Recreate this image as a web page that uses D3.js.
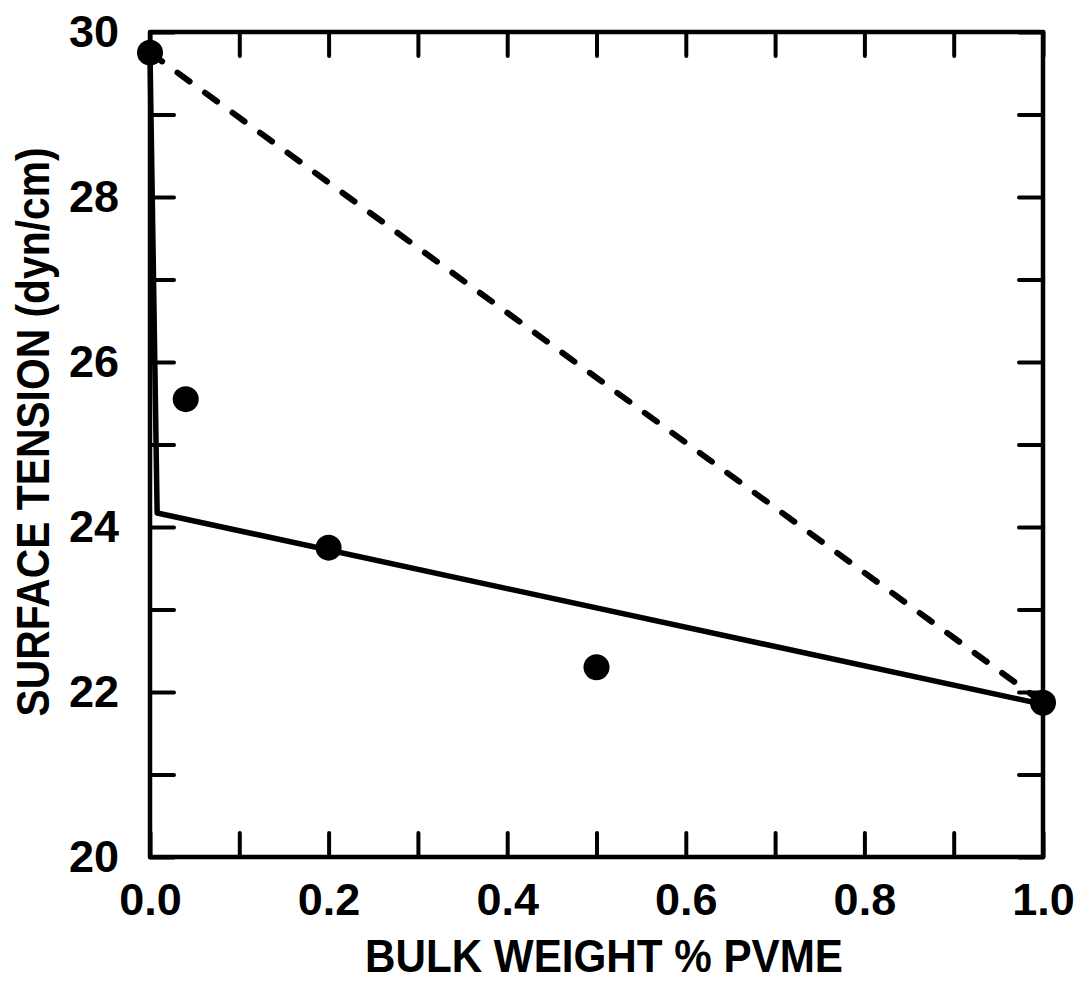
<!DOCTYPE html>
<html>
<head>
<meta charset="utf-8">
<script src="https://cdn.jsdelivr.net/npm/d3@7"></script>
<style>
  html, body { margin: 0; padding: 0; background: #fff; }
  svg { display: block; }
  text { font-family: "Liberation Sans", Arial, sans-serif; font-weight: bold; fill: #000; }
</style>
</head>
<body>
<svg id="chart" width="1080" height="982"></svg>
<script>
// Measured surface tension vs. bulk PVME content
const bulkWt  = [0.0, 0.04, 0.2, 0.5, 1.0];
const tension = [29.75, 25.55, 23.75, 22.3, 21.87];

// Solid curve: sharp drop at trace PVME, then a slow linear decline
const fitX = [0.0, 0.008, 1.0];
const fitY = [29.75, 24.17, 21.85];

// Dashed line: linear mixing between the two pure components
const idealX = [0.0, 1.0];
const idealY = [29.75, 21.87];

// Axis ticks and labels
const xTicks = [0.0, 0.1, 0.2, 0.3, 0.4, 0.5, 0.6, 0.7, 0.8, 0.9, 1.0];
const xTickLabels = ["0.0", "", "0.2", "", "0.4", "", "0.6", "", "0.8", "", "1.0"];
const yTicks = [20, 21, 22, 23, 24, 25, 26, 27, 28, 29, 30];
const yTickLabels = ["20", "", "22", "", "24", "", "26", "", "28", "", "30"];

const xTitle = "BULK WEIGHT % PVME";
const yTitle = "SURFACE TENSION (dyn/cm)";

const svg = d3.select("#chart");
const plotL = 150, plotR = 1043, plotT = 32, plotB = 857;

const x = d3.scaleLinear().domain([0, 1]).range([plotL, plotR]);
const y = d3.scaleLinear().domain([20, 30]).range([plotB, plotT]);

const axisStroke = 4.5;
const tickLen = 24;

function styleAxis(g) {
  g.select(".domain").remove();
  g.selectAll(".tick line").attr("stroke", "#000").attr("stroke-width", 4).attr("stroke-linecap", "round");
  g.selectAll(".tick text").style("font-size", "45px");
}

// bottom axis with labels
svg.append("g")
  .attr("transform", `translate(0,${plotB})`)
  .call(d3.axisBottom(x).tickValues(xTicks).tickSize(-tickLen).tickPadding(26)
        .tickFormat((d, i) => xTickLabels[i]))
  .call(styleAxis);

// top axis, ticks only
svg.append("g")
  .attr("transform", `translate(0,${plotT})`)
  .call(d3.axisTop(x).tickValues(xTicks).tickSize(-tickLen).tickFormat(() => ""))
  .call(styleAxis);

// left axis with labels
svg.append("g")
  .attr("transform", `translate(${plotL},0)`)
  .call(d3.axisLeft(y).tickValues(yTicks).tickSize(-tickLen).tickPadding(31)
        .tickFormat((d, i) => yTickLabels[i]))
  .call(styleAxis);

// right axis, ticks only
svg.append("g")
  .attr("transform", `translate(${plotR},0)`)
  .call(d3.axisRight(y).tickValues(yTicks).tickSize(-tickLen).tickFormat(() => ""))
  .call(styleAxis);

// frame
svg.append("rect")
  .attr("x", plotL).attr("y", plotT)
  .attr("width", plotR - plotL).attr("height", plotB - plotT)
  .attr("fill", "none").attr("stroke", "#000").attr("stroke-width", axisStroke)
  .attr("stroke-linejoin", "round");

const line = d3.line().x(d => x(d[0])).y(d => y(d[1]));

// dashed ideal-mixing line
svg.append("path")
  .attr("d", line(d3.zip(idealX, idealY)))
  .attr("fill", "none").attr("stroke", "#000").attr("stroke-width", 6)
  .attr("stroke-dasharray", "15,19").attr("stroke-linecap", "round");

// solid curve
svg.append("path")
  .attr("d", line(d3.zip(fitX, fitY)))
  .attr("fill", "none").attr("stroke", "#000").attr("stroke-width", 5.5)
  .attr("stroke-linejoin", "round");

// data points
svg.append("g").selectAll("circle")
  .data(d3.zip(bulkWt, tension))
  .join("circle")
  .attr("cx", d => x(d[0]))
  .attr("cy", d => y(d[1]))
  .attr("r", 13)
  .attr("fill", "#000");

// axis titles
svg.append("text")
  .attr("x", 604).attr("y", 972)
  .attr("text-anchor", "middle")
  .attr("textLength", 478).attr("lengthAdjust", "spacingAndGlyphs")
  .style("font-size", "46px")
  .text(xTitle);

svg.append("text")
  .attr("transform", "translate(49,432) rotate(-90)")
  .attr("text-anchor", "middle")
  .attr("textLength", 569).attr("lengthAdjust", "spacingAndGlyphs")
  .style("font-size", "46px")
  .text(yTitle);
</script>
</body>
</html>
